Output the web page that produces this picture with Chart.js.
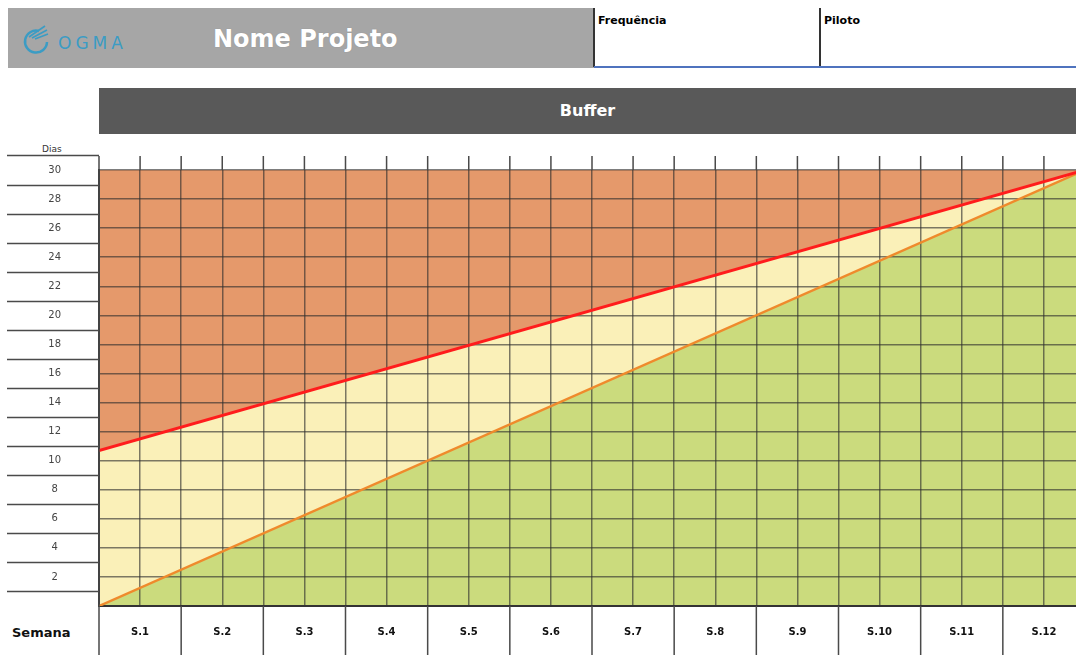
<!DOCTYPE html>
<html>
<head>
<meta charset="utf-8">
<script src="https://cdn.jsdelivr.net/npm/chart.js@4.4.0/dist/chart.umd.min.js"></script>
<style>
  body { margin: 0; width: 1076px; height: 655px; overflow: hidden; position: relative; background: #fff; font-family: "DejaVu Sans", sans-serif; }
  .title-box { position: absolute; left: 8px; top: 8px; width: 586px; height: 60px; background: #a6a6a6; }
  .title-box .name { position: absolute; left: 205px; top: 17px; color: #fff; font: bold 24px "DejaVu Sans", sans-serif; text-shadow: 0 0 1px #888; }
  .logo { position: absolute; left: 10px; top: 13px; }
  .logo-text { position: absolute; left: 50px; top: 25px; color: #3b9cc4; font: 17px "DejaVu Sans", sans-serif; letter-spacing: 4px; }
  .field { position: absolute; top: 8px; height: 59px; border-left: 2px solid #333; font: bold 11px "DejaVu Sans", sans-serif; padding-left: 3px; padding-top: 6px; box-sizing: border-box; }
  .rule { position: absolute; left: 594px; top: 66px; width: 482px; height: 2px; background: #4f73be; }
  .buffer { position: absolute; left: 99px; top: 88px; width: 977px; height: 46px; background: #595959; color: #fff; font: bold 16px "DejaVu Sans", sans-serif; text-align: center; line-height: 46px; }
  .dias { position: absolute; left: 42px; top: 144px; font: 9px "DejaVu Sans", sans-serif; color: #333; }
  .semana { position: absolute; left: 12px; top: 625px; font: bold 13px "DejaVu Sans", sans-serif; color: #111; }
  #chart { position: absolute; left: 0; top: 140px; }
</style>
</head>
<body>
<div class="title-box">
  <svg class="logo" width="36" height="36" viewBox="0 0 36 36">
    <path d="M21 10 A11 11 0 1 0 29 21" fill="none" stroke="#3b9cc4" stroke-width="2.5"/>
    <path d="M11 16 L27 5 M14 17 L29 9 M17 18 L30 13" stroke="#3b9cc4" stroke-width="1.6"/>
  </svg>
  <div class="logo-text">OGMA</div>
  <div class="name">Nome Projeto</div>
</div>
<div class="field" style="left:593px;width:227px;">Frequência</div>
<div class="field" style="left:819px;width:257px;">Piloto</div>
<div class="rule"></div>
<div class="buffer">Buffer</div>
<div class="dias">Dias</div>
<div class="semana">Semana</div>
<canvas id="chart" width="1086" height="515"></canvas>

<script>
// week columns shown under the plot
var weekLabels = ["S.1", "S.2", "S.3", "S.4", "S.5", "S.6", "S.7", "S.8", "S.9", "S.10", "S.11", "S.12"];
// x positions (weeks) of the two line ends
var weekPoints = [0, 12];
// upper limit of the buffer (red) and consumption line (orange), in days
var bufferLimit = [10.7, 30];
var bufferUse = [0, 30];

var gridColor = "rgba(45,45,45,0.62)";

function toPoints(ys) {
  return weekPoints.map(function (x, i) {
    return { x: x, y: ys[i] };
  });
}

// tick padding would otherwise shrink the plot area
function noEdgePadding(scale) {
  scale.paddingTop = 0;
  scale.paddingBottom = 0;
  scale.paddingLeft = 0;
  scale.paddingRight = 0;
}

// extra spreadsheet-like lines around the plot
var frame = {
  id: "frame",
  afterDraw: function (chart) {
    var ctx = chart.ctx;
    var a = chart.chartArea;
    var x = chart.scales.x;
    var y = chart.scales.y;
    ctx.save();
    ctx.strokeStyle = "#4a4a4a";
    ctx.lineWidth = 1.5;
    ctx.beginPath();
    for (var v = 0; v <= 12; v += 0.5) {
      var px = x.getPixelForValue(v);
      ctx.moveTo(px, a.top - 14);
      ctx.lineTo(px, a.top);
    }
    for (var k = 0; k <= 12; k++) {
      var bx = x.getPixelForValue(k);
      ctx.moveTo(bx, a.bottom);
      ctx.lineTo(bx, chart.height);
    }
    for (var d = 1; d <= 31; d += 2) {
      var py = Math.round(y.getPixelForValue(d)) + 0.5;
      ctx.moveTo(7, py);
      ctx.lineTo(a.left, py);
    }
    ctx.moveTo(a.left, a.top - 14);
    ctx.lineTo(a.left, chart.height);
    ctx.stroke();
    ctx.restore();
  },
};

var ctx = document.getElementById("chart");
// fills are drawn last dataset first: yellow, then green, then orange
var myChart = new Chart(ctx, {
  type: "line",
  data: {
    datasets: [
      {
        label: "Limite",
        data: toPoints(bufferLimit),
        borderColor: "#ff1c1c",
        borderWidth: 3,
        backgroundColor: "#e5996b",
        fill: "end",
      },
      {
        label: "Consumo",
        data: toPoints(bufferUse),
        borderColor: "#ef8a2c",
        borderWidth: 2.5,
        backgroundColor: "#cbdb7d",
        fill: "start",
      },
      {
        label: "Buffer",
        data: toPoints(bufferLimit),
        borderWidth: 0,
        borderColor: "rgba(0,0,0,0)",
        backgroundColor: "#faf0b8",
        fill: "start",
      },
    ],
  },
  options: {
    responsive: false,
    animation: false,
    events: [],
    layout: { padding: { top: 30, right: 1, left: 0, bottom: 0 } },
    elements: { point: { radius: 0 }, line: { tension: 0 } },
    plugins: {
      legend: { display: false },
      tooltip: { enabled: false },
      filler: { drawTime: "beforeDraw" },
    },
    scales: {
      x: {
        type: "linear",
        min: 0,
        max: 12,
        ticks: {
          stepSize: 0.5,
          autoSkip: false,
          maxRotation: 0,
          padding: 20,
          color: "#111",
          font: { family: "DejaVu Sans", weight: "bold", size: 10 },
          callback: function (value) {
            return value % 1 === 0.5 ? weekLabels[Math.floor(value)] : "";
          },
        },
        grid: { color: gridColor, lineWidth: 1.5, drawTicks: false },
        border: { display: true, color: "#333", width: 2 },
        afterFit: function (scale) {
          scale.height = 49;
          noEdgePadding(scale);
        },
      },
      y: {
        min: 0,
        max: 30,
        ticks: {
          stepSize: 2,
          padding: 38,
          crossAlign: "center",
          color: "#444",
          font: { family: "DejaVu Sans", size: 10 },
          callback: function (value) {
            return value === 0 ? "" : value;
          },
        },
        grid: { color: gridColor, lineWidth: 1.5, drawTicks: false },
        border: { display: true, color: "#333", width: 2 },
        afterFit: function (scale) {
          scale.width = 99;
          noEdgePadding(scale);
        },
      },
    },
  },
  plugins: [frame],
});
</script>
</body>
</html>
